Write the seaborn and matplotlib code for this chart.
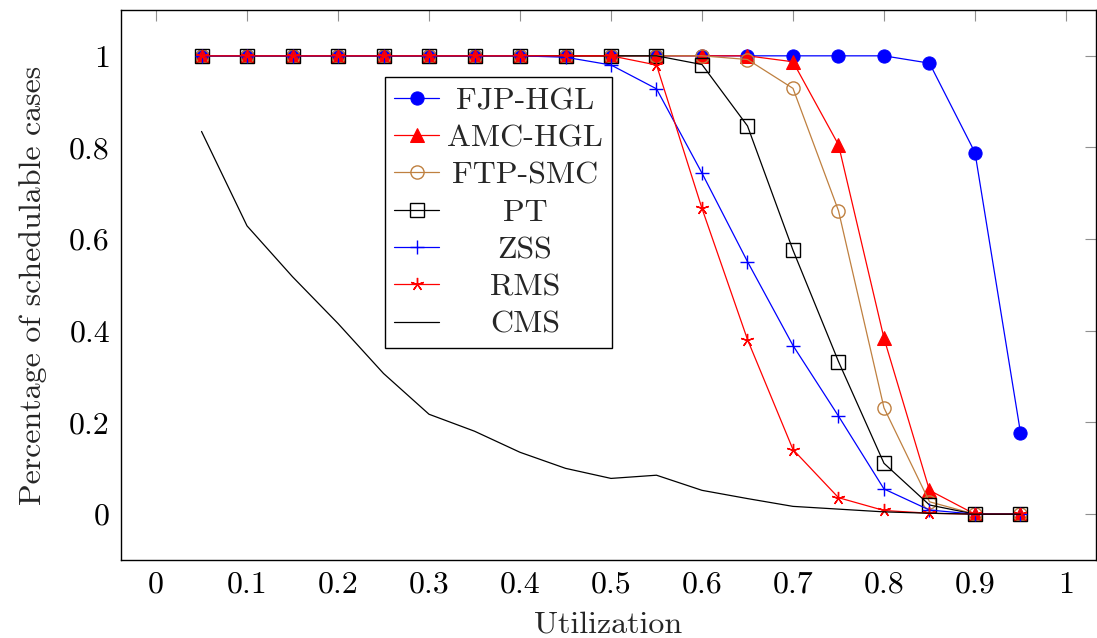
import numpy as np
import pandas as pd
import matplotlib
matplotlib.use("Agg")
import matplotlib.pyplot as plt
import seaborn as sns

# Utilization levels (x axis)
utilization = [0.05, 0.10, 0.15, 0.20, 0.25, 0.30, 0.35, 0.40, 0.45, 0.50,
               0.55, 0.60, 0.65, 0.70, 0.75, 0.80, 0.85, 0.90, 0.95]

# Percentage of schedulable cases per algorithm
fjp_hgl = [1, 1, 1, 1, 1, 1, 1, 1, 1, 1,
           1, 1, 1, 1, 1, 1, 0.984, 0.789, 0.178]
amc_hgl = [1, 1, 1, 1, 1, 1, 1, 1, 1, 1,
           1, 1, 1, 0.987, 0.806, 0.384, 0.052, 0, 0]
ftp_smc = [1, 1, 1, 1, 1, 1, 1, 1, 1, 1,
           1, 1, 0.992, 0.929, 0.662, 0.232, 0.027, 0, 0]
pt = [1, 1, 1, 1, 1, 1, 1, 1, 1, 1,
      1, 0.981, 0.847, 0.576, 0.333, 0.111, 0.020, 0, 0]
zss = [1, 1, 1, 1, 1, 1, 1, 1, 0.997, 0.980,
       0.928, 0.744, 0.551, 0.368, 0.214, 0.055, 0.009, 0, 0]
rms = [1, 1, 1, 1, 1, 1, 1, 1, 1, 1,
       0.980, 0.667, 0.381, 0.141, 0.036, 0.008, 0.002, 0, 0]
cms = [0.835, 0.629, 0.518, 0.416, 0.307, 0.218, 0.181, 0.135, 0.100, 0.078,
       0.085, 0.052, 0.034, 0.017, 0.011, 0.005, 0.002, 0, 0]

series_names = ["FJP-HGL", "AMC-HGL", "FTP-SMC", "PT", "ZSS", "RMS", "CMS"]
series_values = [fjp_hgl, amc_hgl, ftp_smc, pt, zss, rms, cms]

x_ticks = [0, 0.1, 0.2, 0.3, 0.4, 0.5, 0.6, 0.7, 0.8, 0.9, 1]
x_tick_labels = ["0", "0.1", "0.2", "0.3", "0.4", "0.5", "0.6", "0.7", "0.8", "0.9", "1"]
y_ticks = [0, 0.2, 0.4, 0.6, 0.8, 1]
y_tick_labels = ["0", "0.2", "0.4", "0.6", "0.8", "1"]

sns.set_style("white")
plt.rcParams["font.family"] = ["cmr10", "DejaVu Serif"]
plt.rcParams["axes.formatter.use_mathtext"] = True
plt.rcParams["axes.unicode_minus"] = False

FS = 23

brown = (0.75, 0.5, 0.25)
styles = {
    "FJP-HGL": dict(color="blue", marker="o", markersize=9.5, markerfacecolor="blue",
                    markeredgecolor="blue"),
    "AMC-HGL": dict(color="red", marker="^", markersize=9.5, markerfacecolor="red",
                    markeredgecolor="red"),
    "FTP-SMC": dict(color=brown, marker="o", markersize=9.5, markerfacecolor="none",
                    markeredgecolor=brown, markeredgewidth=1.0),
    "PT": dict(color="black", marker="s", markersize=9.5, markerfacecolor="none",
               markeredgecolor="black", markeredgewidth=1.0),
    "ZSS": dict(color="blue", marker="+", markersize=10.5, markeredgecolor="blue",
                markeredgewidth=1.0),
    "RMS": dict(color="red", marker=(5, 2, 0), markersize=9.5, markeredgecolor="red",
                markeredgewidth=1.0),
    "CMS": dict(color="black", marker=None),
}

df = pd.DataFrame({"utilization": utilization})
for name, vals in zip(series_names, series_values):
    df[name] = vals

fig = plt.figure(figsize=(10.97, 6.38), dpi=100)
ax = fig.add_axes([121 / 1097, (638 - 560) / 638, 975 / 1097, 550 / 638])

for name in series_names:
    sns.lineplot(data=df, x="utilization", y=name, ax=ax, label=name,
                 linewidth=0.9, estimator=None, sort=False, **styles[name])

ax.set_xlim(-0.0385, 1.033)
ax.set_ylim(-0.1, 1.1)
ax.set_xticks(x_ticks)
ax.set_xticklabels(x_tick_labels)
ax.set_yticks(y_ticks)
ax.set_yticklabels(y_tick_labels)
ax.tick_params(axis="both", which="both", direction="in", length=8, width=0.8,
               color="#909090", labelsize=FS, top=True, right=True, pad=8,
               labelcolor="black")
for sp in ax.spines.values():
    sp.set_color("black")
    sp.set_linewidth(1.0)

ax.set_xlabel("Utilization", fontsize=FS, labelpad=9)
ax.set_ylabel("Percentage of schedulable cases", fontsize=FS, labelpad=16)

handles, labels = ax.get_legend_handles_labels()
leg = ax.legend(handles, labels, loc="upper left", bbox_to_anchor=(0.2705, 0.878),
                borderaxespad=0, fontsize=FS, frameon=True, fancybox=False,
                framealpha=1, edgecolor="black", handlelength=1.41,
                handletextpad=0.24, labelspacing=0.28, borderpad=0.3)
leg.get_frame().set_linewidth(1.0)

# Center each legend entry within the text column
fig.canvas.draw()
renderer = fig.canvas.get_renderer()
texts = leg.get_texts()
widths = [t.get_window_extent(renderer).width for t in texts]
max_w = max(widths)
for t, w in zip(texts, widths):
    t.set_position(((max_w - w) / 2, 0))

fig.savefig("out.png", dpi=100)
